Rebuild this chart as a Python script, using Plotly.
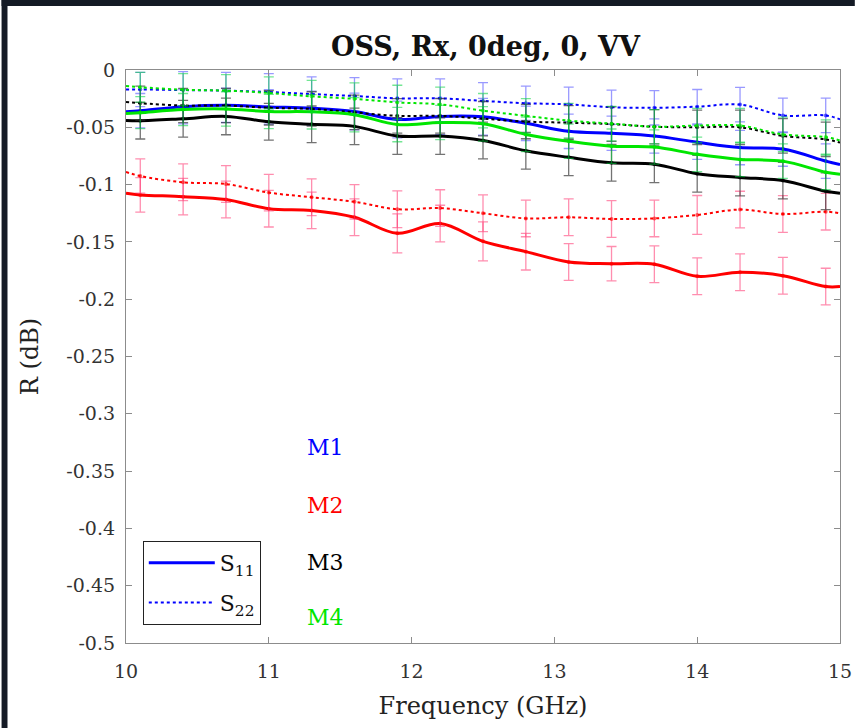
import plotly.graph_objects as go

# ---------------- data ----------------
freq_line = [10.0, 10.1, 10.4, 10.7, 11.0, 11.3, 11.6, 11.9, 12.2, 12.5,
             12.8, 13.1, 13.4, 13.7, 14.0, 14.3, 14.6, 14.9, 15.0]
freq_err = [10.1, 10.4, 10.7, 11.0, 11.3, 11.6, 11.9, 12.2, 12.5,
            12.8, 13.1, 13.4, 13.7, 14.0, 14.3, 14.6, 14.9]

m1_s11 = [-0.0364, -0.0355, -0.0320, -0.0308, -0.0322, -0.0334, -0.0362, -0.0432, -0.0405, -0.0408,
          -0.0465, -0.0535, -0.0552, -0.0576, -0.0630, -0.0677, -0.0690, -0.0795, -0.0825]
m1_s22 = [-0.0170, -0.0170, -0.0175, -0.0180, -0.0192, -0.0210, -0.0227, -0.0247, -0.0247, -0.0270,
          -0.0290, -0.0300, -0.0325, -0.0330, -0.0320, -0.0302, -0.0396, -0.0396, -0.0430]
m2_s11 = [-0.1076, -0.1090, -0.1105, -0.1130, -0.1210, -0.1225, -0.1285, -0.1425, -0.1340, -0.1495,
          -0.1585, -0.1675, -0.1690, -0.1695, -0.1800, -0.1765, -0.1795, -0.1890, -0.1890]
m2_s22 = [-0.0890, -0.0925, -0.0980, -0.0995, -0.1070, -0.1110, -0.1150, -0.1215, -0.1205, -0.1250,
          -0.1295, -0.1285, -0.1300, -0.1295, -0.1265, -0.1218, -0.1257, -0.1236, -0.1250]
m3_s11 = [-0.0440, -0.0442, -0.0425, -0.0405, -0.0452, -0.0474, -0.0492, -0.0576, -0.0576, -0.0615,
          -0.0705, -0.0762, -0.0810, -0.0822, -0.0905, -0.0938, -0.0965, -0.1058, -0.1075]
m3_s22 = [-0.0280, -0.0290, -0.0310, -0.0310, -0.0330, -0.0340, -0.0370, -0.0400, -0.0400, -0.0425,
          -0.0450, -0.0460, -0.0472, -0.0495, -0.0500, -0.0500, -0.0575, -0.0605, -0.0634]
m4_s11 = [-0.0380, -0.0372, -0.0345, -0.0340, -0.0362, -0.0365, -0.0390, -0.0476, -0.0458, -0.0470,
          -0.0562, -0.0622, -0.0665, -0.0672, -0.0736, -0.0780, -0.0795, -0.0893, -0.0910]
m4_s22 = [-0.0140, -0.0150, -0.0172, -0.0180, -0.0200, -0.0230, -0.0252, -0.0283, -0.0300, -0.0355,
          -0.0400, -0.0442, -0.0468, -0.0495, -0.0485, -0.0485, -0.0562, -0.0585, -0.0615]

m1_s11_err = [0.015, 0.015, 0.015, 0.015, 0.015, 0.016, 0.016, 0.016, 0.016, 0.015, 0.015, 0.015, 0.015, 0.015, 0.015, 0.015, 0.015]
m1_s22_err = [0.015, 0.016, 0.016, 0.016, 0.015, 0.016, 0.017, 0.017, 0.016, 0.015, 0.015, 0.015, 0.015, 0.015, 0.015, 0.015, 0.015]
m2_s11_err = [0.015, 0.016, 0.016, 0.016, 0.016, 0.016, 0.017, 0.016, 0.017, 0.016, 0.016, 0.015, 0.016, 0.016, 0.016, 0.016, 0.016]
m2_s22_err = [0.015, 0.016, 0.016, 0.016, 0.016, 0.015, 0.016, 0.016, 0.016, 0.016, 0.016, 0.016, 0.016, 0.017, 0.016, 0.016, 0.016]
m3_s11_err = [0.016, 0.016, 0.016, 0.016, 0.016, 0.016, 0.016, 0.016, 0.016, 0.016, 0.016, 0.016, 0.016, 0.016, 0.016, 0.016, 0.016]
m3_s22_err = [0.015, 0.015, 0.015, 0.015, 0.015, 0.015, 0.015, 0.015, 0.015, 0.015, 0.015, 0.015, 0.015, 0.015, 0.015, 0.015, 0.015]
m4_s11_err = [0.014, 0.014, 0.015, 0.015, 0.015, 0.015, 0.015, 0.015, 0.015, 0.015, 0.015, 0.015, 0.015, 0.015, 0.015, 0.015, 0.015]
m4_s22_err = [0.013, 0.014, 0.014, 0.014, 0.014, 0.014, 0.015, 0.015, 0.015, 0.015, 0.015, 0.015, 0.015, 0.015, 0.015, 0.015, 0.015]

x_ticks = [10, 11, 12, 13, 14, 15]
y_ticks = [0, -0.05, -0.1, -0.15, -0.2, -0.25, -0.3, -0.35, -0.4, -0.45, -0.5]
y_tick_text = ["0", "-0.05", "-0.1", "-0.15", "-0.2", "-0.25", "-0.3", "-0.35", "-0.4", "-0.45", "-0.5"]

labels = ["M1", "M2", "M3", "M4"]
label_y = [-0.329, -0.380, -0.430, -0.478]
label_x = 11.25

title_text = "OSS, Rx, 0deg, 0, VV"
x_title = "Frequency (GHz)"
y_title = "R (dB)"

# ---------------- styles ----------------
SERIF = "DejaVu Serif"
colors = {"M1": "#0000ff", "M2": "#ff0000", "M3": "#000000", "M4": "#00e600"}
err_colors = {"M1": "rgba(70,70,255,0.55)", "M2": "rgba(255,50,110,0.55)",
              "M3": "rgba(40,40,40,0.65)", "M4": "rgba(0,210,60,0.55)"}

series = [
    ("M1", "S11", m1_s11, m1_s11_err), ("M1", "S22", m1_s22, m1_s22_err),
    ("M2", "S11", m2_s11, m2_s11_err), ("M2", "S22", m2_s22, m2_s22_err),
    ("M3", "S11", m3_s11, m3_s11_err), ("M3", "S22", m3_s22, m3_s22_err),
    ("M4", "S11", m4_s11, m4_s11_err), ("M4", "S22", m4_s22, m4_s22_err),
]

fig = go.Figure()

for name, s, vals, errs in series:
    dotted = (s == "S22")
    fig.add_trace(go.Scatter(
        x=freq_err, y=vals[1:-1], mode="markers",
        marker=dict(color=colors[name], size=4, opacity=0.6),
        error_y=dict(type="data", array=errs, visible=True,
                     color=err_colors[name], thickness=1.3, width=5),
        showlegend=False, hoverinfo="skip"))
    fig.add_trace(go.Scatter(
        x=freq_line, y=vals, mode="lines",
        line=dict(color=colors[name], width=2 if dotted else 3,
                  dash="dot" if dotted else "solid", shape="spline", smoothing=1.0),
        showlegend=False, name=f"{name} {s}"))

# legend entries
fig.add_trace(go.Scatter(x=[None], y=[None], mode="lines",
                         line=dict(color="#0000ff", width=3),
                         name="S<sub>11</sub>", legendgroup="a"))
fig.add_trace(go.Scatter(x=[None], y=[None], mode="lines",
                         line=dict(color="#0000ff", width=2, dash="dot"),
                         name="S<sub>22</sub>", legendgroup="b"))

for lab, ly in zip(labels, label_y):
    fig.add_annotation(x=label_x, y=ly, text=lab, showarrow=False,
                       xanchor="left", yanchor="middle",
                       font=dict(family=SERIF, size=22, color=colors[lab]))

# dark frame strips (top and left edges of the screenshot)
L, T, W, H = 126, 70, 723, 573
fig.add_shape(type="rect", xref="paper", yref="paper",
              x0=(0 - L) / W, x1=(6 - L) / W, y0=(T + H - 728) / H, y1=(T + H) / H,
              fillcolor="#141a25", line=dict(width=0), layer="above")
fig.add_shape(type="rect", xref="paper", yref="paper",
              x0=(0 - L) / W, x1=(864 - L) / W, y0=(T + H - 6) / H, y1=(T + H) / H,
              fillcolor="#141a25", line=dict(width=0), layer="above")

axis_common = dict(showgrid=False, zeroline=False, showline=True, mirror="ticks",
                   linecolor="#8c8c8c", linewidth=1.2, ticks="inside", ticklen=6,
                   tickcolor="#8c8c8c",
                   tickfont=dict(family=SERIF, size=19, color="#333333"))

fig.update_layout(
    width=864, height=728,
    margin=dict(l=L, r=864 - L - W, t=T, b=728 - T - H),
    paper_bgcolor="white", plot_bgcolor="white",
    title=dict(text=f"<b>{title_text}</b>", x=(490 - L) / W, xref="paper", xanchor="center",
               y=1 - 47 / 728, yanchor="middle",
               font=dict(family=SERIF, size=27, color="#111111")),
    xaxis=dict(range=[10, 15], tickvals=x_ticks, ticktext=[str(v) for v in x_ticks],
               ticklabelstandoff=11,
               title=dict(text=x_title, font=dict(family=SERIF, size=24, color="#222222"), standoff=16),
               **axis_common),
    yaxis=dict(range=[-0.5, 0], tickvals=y_ticks, ticktext=y_tick_text,
               ticklabelstandoff=6,
               title=dict(text=y_title, font=dict(family=SERIF, size=24, color="#222222"), standoff=20),
               **axis_common),
    legend=dict(x=(143 - L) / W, y=(T + H - 625) / H, xanchor="left", yanchor="bottom",
                bgcolor="white", bordercolor="#222222", borderwidth=1,
                font=dict(family=SERIF, size=22, color="#111111"),
                itemwidth=66, traceorder="grouped", tracegroupgap=8),
)

fig.write_html(
    "out.html",
    config={"displayModeBar": False},
    post_script=("document.body.style.margin='0';"
                 "document.body.style.overflow='hidden';"
                 "document.documentElement.style.overflow='hidden';"),
)
